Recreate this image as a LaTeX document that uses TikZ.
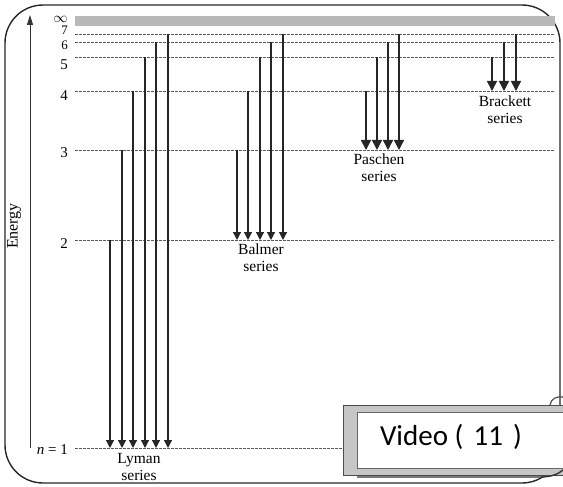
\documentclass[tikz,border=0pt]{standalone}
\usepackage{fontspec}
\setmainfont{Liberation Serif}
\newfontfamily\vidfont{Carlito}
\usepackage{tikz}
\usetikzlibrary{positioning, arrows.meta}
\tikzstyle{trans} = [line width=1.2pt, black!85, -{Triangle[width=8pt,length=8pt]}]
\tikzstyle{bigtrans} = [line width=1.5pt, black!85, -{Triangle[width=10pt,length=10pt]}]
\tikzstyle{level} = [line width=0.8pt, black!65, dash pattern=on 3pt off 1pt]

\begin{document}
\begin{tikzpicture}[x=1pt, y=-1pt,
    lvlnum/.style={anchor=east, inner sep=0pt, font=\fontsize{15}{17}\selectfont},
    series/.style={align=center, inner sep=0pt, font=\fontsize{15.5}{17}\selectfont},
    frame/.style={draw=black!85, line width=1.4pt, rounded corners=38pt},
    energy/.style={line width=1pt, black!80, -{Triangle[width=6pt,length=10pt]}},
    videobox/.style={draw=black!60, fill=white, minimum width=206pt, minimum height=56pt, inner sep=0pt}]
    \useasboundingbox (0,0) rectangle (563,487);

    % outer frame
    \draw[frame] (5,5) rectangle (560,483);

    % energy levels
    \fill[gray!55] (75,16) rectangle (555,26);
    \foreach \n/\y in {7/34, 6/42, 5/57, 4/91, 3/150, 2/240, 1/448} {
        \coordinate (lv\n) at (75,\y);
        \coordinate (lvend\n) at (555,\y);
        \draw[level] (lv\n) -- (lvend\n);
    }

    % level numbers
    \node[lvlnum] (ninf) at (68,19) {$\infty$};
    \node[lvlnum, font=\fontsize{13}{15}\selectfont] (n7) at (68,30) {7};
    \node[lvlnum, font=\fontsize{13}{15}\selectfont] (n6) at (68,45) {6};
    \node[lvlnum] (n5) at (68,65) {5};
    \node[lvlnum] (n4) at (68,96) {4};
    \node[lvlnum] (n3) at (68,153) {3};
    \node[lvlnum] (n2) at (68,244) {2};
    \node[lvlnum] (n1) at (68,450) {\textit{n} = 1};

    % energy axis
    \coordinate (ebot) at (30,448);
    \coordinate (etop) at (30,15);
    \draw[energy] (ebot) -- (etop);
    \node[rotate=90, inner sep=0pt, font=\fontsize{16}{18}\selectfont] (elabel) at (14,226) {Energy};

    % Lyman series
    \foreach \x/\u in {110/2, 122/3, 133/4, 145/5, 156/6, 168/7}
        \draw[trans] (\x,0 |- lv\u) -- (\x,0 |- lv1);
    % Balmer series
    \foreach \x/\u in {237/3, 248/4, 260/5, 271/6, 283/7}
        \draw[trans] (\x,0 |- lv\u) -- (\x,0 |- lv2);
    % Paschen series
    \foreach \x/\u in {366/4, 377/5, 388/6, 399/7}
        \draw[bigtrans] (\x,0 |- lv\u) -- (\x,0 |- lv3);
    % Brackett series
    \foreach \x/\u in {492/5, 504/6, 516/7}
        \draw[bigtrans] (\x,0 |- lv\u) -- (\x,0 |- lv4);

    % series labels
    \coordinate (lyman) at (139,448);
    \coordinate (balmer) at (261,240);
    \coordinate (paschen) at (379,150);
    \coordinate (brackett) at (505,91);
    \node[series, below=5pt of lyman] (lymanlbl) {Lyman\\series};
    \node[series, below=4pt of balmer] (balmerlbl) {Balmer\\series};
    \node[series, below=4pt of paschen] (paschenlbl) {Paschen\\series};
    \node[series, below=5pt of brackett] (brackettlbl) {Brackett\\series};

    % video tag
    \fill[gray!45, draw=black!70] (343,405) rectangle (563,475);
    \node[videobox] (video) at (460,440) {};
    \node[font=\vidfont\fontsize{29}{32}\selectfont] (vidtxt) at (451,437) {Video (\hspace{0.35em}11\hspace{0.35em})};
    \draw[black!70, line width=1.2pt] (550,405) .. controls (551,399) and (556,396) .. (563,397);
    \draw[black!80, line width=1.4pt] (357,477) -- (540,477) .. controls (552,477) and (558,474) .. (563,470);
\end{tikzpicture}
\end{document}
